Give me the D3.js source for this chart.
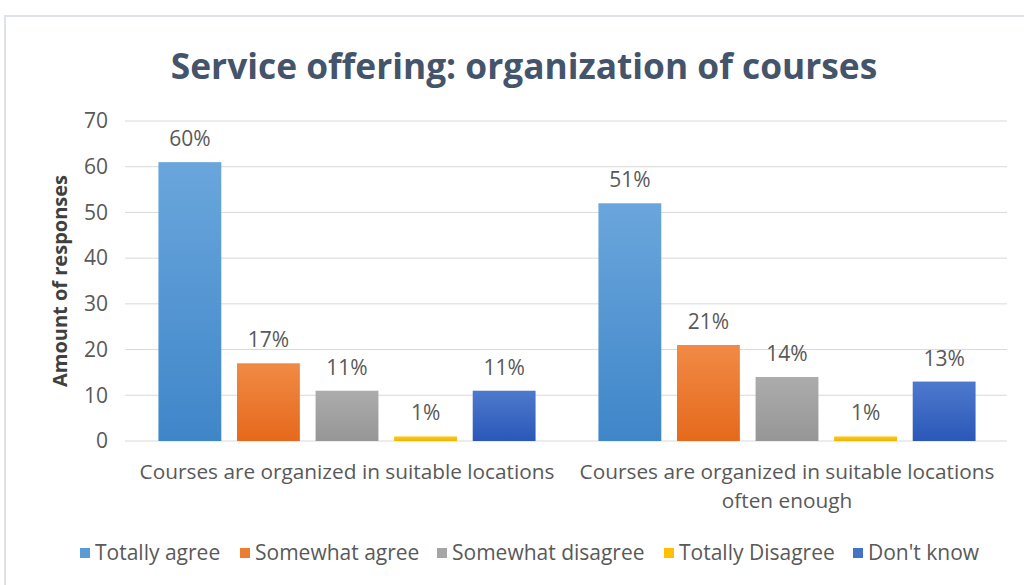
<!DOCTYPE html>
<html><head><meta charset="utf-8">
<script src="https://cdn.jsdelivr.net/npm/d3@7"></script>
<style>
html,body{margin:0;padding:0;background:#fff;}
svg{display:block;}
text{font-family:"Open Sans",sans-serif;}
</style></head>
<body><svg id="c" width="1024" height="585"></svg>
<script>
const categories = [["Courses are organized in suitable locations"], ["Courses are organized in suitable locations", "often enough"]];
const categoryKeys = ["Locations", "Often enough"];
const seriesNames = ["Totally agree", "Somewhat agree", "Somewhat disagree", "Totally Disagree", "Don't know"];
const totallyAgree = [61, 52];
const somewhatAgree = [17, 21];
const somewhatDisagree = [11, 14];
const totallyDisagree = [1, 1];
const dontKnow = [11, 13];
const pctLabels = [["60%", "17%", "11%", "1%", "11%"], ["51%", "21%", "14%", "1%", "13%"]];
const yTicks = [0, 10, 20, 30, 40, 50, 60, 70];
const colors = [["#6AA6DC", "#3F86C9"], ["#F18A45", "#E5691C"], ["#ACACAC", "#969696"], ["#FFC81A", "#F0B400"], ["#4D79CD", "#2B58B8"]];
const legendColors = ["#5B9BD5", "#ED7D31", "#A5A5A5", "#FFC000", "#4472C4"];

const seriesValues = [totallyAgree, somewhatAgree, somewhatDisagree, totallyDisagree, dontKnow];

const svg = d3.select("#c");
const W = 1024, H = 585;
const m = {left: 127, right: 17, top: 121, bottom: 144};

// frame
svg.append("rect").attr("x", 5).attr("y", 16).attr("width", 1030).attr("height", 600)
  .attr("fill", "#fff").attr("stroke", "#DEE2E8").attr("stroke-width", 2);

const defs = svg.append("defs");
colors.forEach((c, i) => {
  const g = defs.append("linearGradient").attr("id", "g" + i).attr("x1", 0).attr("y1", 0).attr("x2", 0).attr("y2", 1);
  g.append("stop").attr("offset", "0%").attr("stop-color", c[0]);
  g.append("stop").attr("offset", "100%").attr("stop-color", c[1]);
});

const x0 = d3.scaleBand().domain(categoryKeys).range([m.left, W - m.right]).padding(0);
const x1 = d3.scaleBand().domain(seriesNames).range([0, x0.bandwidth()]).paddingInner(0.2).paddingOuter(0.4);
const y = d3.scaleLinear().domain([0, 70]).range([H - m.bottom, m.top]);

// title
svg.append("text").attr("x", 524).attr("y", 79).attr("text-anchor", "middle")
  .attr("font-size", 35.3).attr("font-weight", "bold").attr("fill", "#44546A")
  .text("Service offering: organization of courses");

// gridlines
const grid = svg.append("g");
grid.selectAll("line").data(yTicks).join("line")
  .attr("x1", m.left - 2).attr("x2", W - m.right)
  .attr("y1", d => y(d)).attr("y2", d => y(d))
  .attr("stroke", "#D9D9D9").attr("stroke-width", 1);

// y axis
const yAxis = svg.append("g").attr("transform", `translate(${m.left - 19},0)`)
  .call(d3.axisLeft(y).tickValues(yTicks).tickSize(0).tickPadding(0));
yAxis.select(".domain").remove();
yAxis.selectAll("text").attr("font-size", 21).attr("fill", "#595959")
  .attr("font-family", '"Open Sans",sans-serif');

svg.append("text").attr("transform", `translate(67,${(y(0)+y(70))/2}) rotate(-90)`)
  .attr("text-anchor", "middle").attr("font-size", 20).attr("font-weight", "bold").attr("fill", "#404040")
  .text("Amount of responses");

// bars
const groups = svg.append("g").selectAll("g").data(categoryKeys).join("g")
  .attr("transform", d => `translate(${x0(d)},0)`);
groups.each(function(cat, ci) {
  const g = d3.select(this);
  const data = seriesNames.map((s, si) => ({s, si, v: seriesValues[si][ci], label: pctLabels[ci][si]}));
  g.selectAll("rect").data(data).join("rect")
    .attr("x", d => x1(d.s)).attr("width", x1.bandwidth())
    .attr("y", d => y(d.v)).attr("height", d => y(0) - y(d.v))
    .attr("fill", d => `url(#g${d.si})`);
  g.selectAll("text.lbl").data(data).join("text").attr("class", "lbl")
    .attr("x", d => x1(d.s) + x1.bandwidth() / 2).attr("y", d => y(d.v) - 16)
    .attr("text-anchor", "middle").attr("font-size", 21).attr("fill", "#595959")
    .text(d => d.label);
});

// category labels
categoryKeys.forEach((k, ci) => {
  const t = svg.append("text").attr("x", x0(k) + x0.bandwidth() / 2).attr("y", 479)
    .attr("text-anchor", "middle").attr("font-size", 20.8).attr("fill", "#595959");
  categories[ci].forEach((line, li) => {
    t.append("tspan").attr("x", x0(k) + x0.bandwidth() / 2).attr("dy", li === 0 ? 0 : 29).text(line);
  });
});

// legend
const legendX = [80, 240, 437, 664, 853];
const lg = svg.append("g");
seriesNames.forEach((s, i) => {
  lg.append("rect").attr("x", legendX[i]).attr("y", 548).attr("width", 10).attr("height", 10).attr("fill", legendColors[i]);
  lg.append("text").attr("x", legendX[i] + 15).attr("y", 560).attr("font-size", 21).attr("fill", "#595959").text(s);
});
</script></body></html>
